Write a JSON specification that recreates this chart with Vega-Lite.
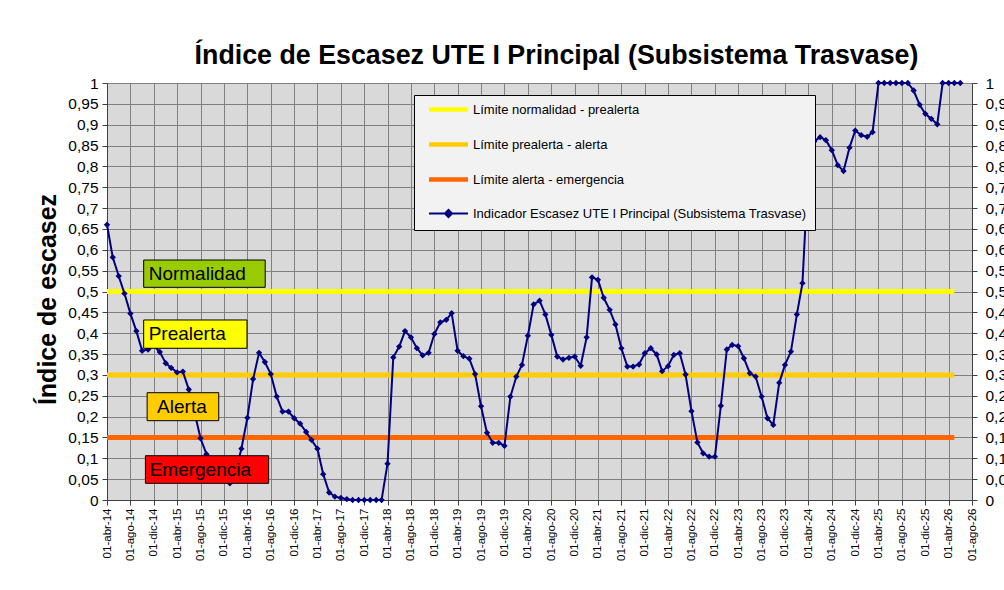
{
  "$schema": "https://vega.github.io/schema/vega-lite/v6.json",
  "autosize": {"type": "none"},
  "width": 865,
  "height": 417,
  "padding": {"left": 107, "top": 83, "right": 32, "bottom": 90},
  "background": "#ffffff",
  "title": {
    "text": "Índice de Escasez UTE I Principal (Subsistema Trasvase)",
    "font": "Liberation Sans",
    "fontSize": 26.8,
    "fontWeight": "bold",
    "color": "#000000",
    "anchor": "middle",
    "dx": 17,
    "dy": 26,
    "offset": 11,
    "baseline": "alphabetic"
  },
  "datasets": {
    "umbrales": [
      {"serie": "Límite normalidad - prealerta", "fecha": "2014-04-01", "v": 0.5},
      {"serie": "Límite normalidad - prealerta", "fecha": "2026-05-01", "v": 0.5},
      {"serie": "Límite prealerta - alerta", "fecha": "2014-04-01", "v": 0.3},
      {"serie": "Límite prealerta - alerta", "fecha": "2026-05-01", "v": 0.3},
      {"serie": "Límite alerta - emergencia", "fecha": "2014-04-01", "v": 0.15},
      {"serie": "Límite alerta - emergencia", "fecha": "2026-05-01", "v": 0.15}
    ],
    "zonas": [
      {"label": "Normalidad", "fecha": "2014-10-09", "fecha2": "2016-07-03", "y1": 0.51, "y2": 0.5755},
      {"label": "Prealerta", "fecha": "2014-10-09", "fecha2": "2016-03-30", "y1": 0.3638, "y2": 0.4317},
      {"label": "Alerta", "fecha": "2014-10-27", "fecha2": "2015-11-04", "y1": 0.1902, "y2": 0.2573},
      {"label": "Emergencia", "fecha": "2014-10-18", "fecha2": "2016-07-21", "y1": 0.04, "y2": 0.1062}
    ],
    "etiquetas": [
      {"label": "Normalidad", "fecha": "2014-11-04", "v": 0.5427},
      {"label": "Prealerta", "fecha": "2014-11-04", "v": 0.3977},
      {"label": "Alerta", "fecha": "2014-12-18", "v": 0.2237},
      {"label": "Emergencia", "fecha": "2014-11-09", "v": 0.0731}
    ],
    "indicador": [
      {"fecha": "2014-04-01", "v": 0.66}, {"fecha": "2014-05-01", "v": 0.582}, {"fecha": "2014-06-01", "v": 0.537},
      {"fecha": "2014-07-01", "v": 0.495}, {"fecha": "2014-08-01", "v": 0.447}, {"fecha": "2014-09-01", "v": 0.405},
      {"fecha": "2014-10-01", "v": 0.358}, {"fecha": "2014-11-01", "v": 0.361}, {"fecha": "2014-12-01", "v": 0.37},
      {"fecha": "2015-01-01", "v": 0.355}, {"fecha": "2015-02-01", "v": 0.328}, {"fecha": "2015-03-01", "v": 0.317},
      {"fecha": "2015-04-01", "v": 0.306}, {"fecha": "2015-05-01", "v": 0.308}, {"fecha": "2015-06-01", "v": 0.265},
      {"fecha": "2015-07-01", "v": 0.21}, {"fecha": "2015-08-01", "v": 0.148}, {"fecha": "2015-09-01", "v": 0.11},
      {"fecha": "2015-10-01", "v": 0.09}, {"fecha": "2015-11-01", "v": 0.075}, {"fecha": "2015-12-01", "v": 0.06},
      {"fecha": "2016-01-01", "v": 0.04}, {"fecha": "2016-02-01", "v": 0.07}, {"fecha": "2016-03-01", "v": 0.123},
      {"fecha": "2016-04-01", "v": 0.197}, {"fecha": "2016-05-01", "v": 0.29}, {"fecha": "2016-06-01", "v": 0.353},
      {"fecha": "2016-07-01", "v": 0.331}, {"fecha": "2016-08-01", "v": 0.302}, {"fecha": "2016-09-01", "v": 0.248},
      {"fecha": "2016-10-01", "v": 0.212}, {"fecha": "2016-11-01", "v": 0.212}, {"fecha": "2016-12-01", "v": 0.196},
      {"fecha": "2017-01-01", "v": 0.183}, {"fecha": "2017-02-01", "v": 0.163}, {"fecha": "2017-03-01", "v": 0.144},
      {"fecha": "2017-04-01", "v": 0.123}, {"fecha": "2017-05-01", "v": 0.062}, {"fecha": "2017-06-01", "v": 0.018},
      {"fecha": "2017-07-01", "v": 0.008}, {"fecha": "2017-08-01", "v": 0.005}, {"fecha": "2017-09-01", "v": 0.002},
      {"fecha": "2017-10-01", "v": 0}, {"fecha": "2017-11-01", "v": 0}, {"fecha": "2017-12-01", "v": 0},
      {"fecha": "2018-01-01", "v": 0}, {"fecha": "2018-02-01", "v": 0}, {"fecha": "2018-03-01", "v": 0},
      {"fecha": "2018-04-01", "v": 0.087}, {"fecha": "2018-05-01", "v": 0.342}, {"fecha": "2018-06-01", "v": 0.368},
      {"fecha": "2018-07-01", "v": 0.405}, {"fecha": "2018-08-01", "v": 0.39}, {"fecha": "2018-09-01", "v": 0.364},
      {"fecha": "2018-10-01", "v": 0.347}, {"fecha": "2018-11-01", "v": 0.353}, {"fecha": "2018-12-01", "v": 0.398},
      {"fecha": "2019-01-01", "v": 0.426}, {"fecha": "2019-02-01", "v": 0.432}, {"fecha": "2019-03-01", "v": 0.448},
      {"fecha": "2019-04-01", "v": 0.358}, {"fecha": "2019-05-01", "v": 0.345}, {"fecha": "2019-06-01", "v": 0.339},
      {"fecha": "2019-07-01", "v": 0.302}, {"fecha": "2019-08-01", "v": 0.225}, {"fecha": "2019-09-01", "v": 0.161},
      {"fecha": "2019-10-01", "v": 0.137}, {"fecha": "2019-11-01", "v": 0.137}, {"fecha": "2019-12-01", "v": 0.13},
      {"fecha": "2020-01-01", "v": 0.248}, {"fecha": "2020-02-01", "v": 0.296}, {"fecha": "2020-03-01", "v": 0.324},
      {"fecha": "2020-04-01", "v": 0.394}, {"fecha": "2020-05-01", "v": 0.469}, {"fecha": "2020-06-01", "v": 0.478},
      {"fecha": "2020-07-01", "v": 0.445}, {"fecha": "2020-08-01", "v": 0.396}, {"fecha": "2020-09-01", "v": 0.344},
      {"fecha": "2020-10-01", "v": 0.337}, {"fecha": "2020-11-01", "v": 0.341}, {"fecha": "2020-12-01", "v": 0.344},
      {"fecha": "2021-01-01", "v": 0.322}, {"fecha": "2021-02-01", "v": 0.39}, {"fecha": "2021-03-01", "v": 0.534},
      {"fecha": "2021-04-01", "v": 0.528}, {"fecha": "2021-05-01", "v": 0.485}, {"fecha": "2021-06-01", "v": 0.456},
      {"fecha": "2021-07-01", "v": 0.421}, {"fecha": "2021-08-01", "v": 0.364}, {"fecha": "2021-09-01", "v": 0.32},
      {"fecha": "2021-10-01", "v": 0.32}, {"fecha": "2021-11-01", "v": 0.325}, {"fecha": "2021-12-01", "v": 0.352},
      {"fecha": "2022-01-01", "v": 0.364}, {"fecha": "2022-02-01", "v": 0.349}, {"fecha": "2022-03-01", "v": 0.309},
      {"fecha": "2022-04-01", "v": 0.321}, {"fecha": "2022-05-01", "v": 0.348}, {"fecha": "2022-06-01", "v": 0.352},
      {"fecha": "2022-07-01", "v": 0.301}, {"fecha": "2022-08-01", "v": 0.213}, {"fecha": "2022-09-01", "v": 0.138},
      {"fecha": "2022-10-01", "v": 0.112}, {"fecha": "2022-11-01", "v": 0.104}, {"fecha": "2022-12-01", "v": 0.104},
      {"fecha": "2023-01-01", "v": 0.226}, {"fecha": "2023-02-01", "v": 0.361}, {"fecha": "2023-03-01", "v": 0.372},
      {"fecha": "2023-04-01", "v": 0.369}, {"fecha": "2023-05-01", "v": 0.34}, {"fecha": "2023-06-01", "v": 0.304},
      {"fecha": "2023-07-01", "v": 0.296}, {"fecha": "2023-08-01", "v": 0.248}, {"fecha": "2023-09-01", "v": 0.196},
      {"fecha": "2023-10-01", "v": 0.18}, {"fecha": "2023-11-01", "v": 0.281}, {"fecha": "2023-12-01", "v": 0.324},
      {"fecha": "2024-01-01", "v": 0.356}, {"fecha": "2024-02-01", "v": 0.445}, {"fecha": "2024-03-01", "v": 0.52},
      {"fecha": "2024-04-01", "v": 0.8}, {"fecha": "2024-05-01", "v": 0.86}, {"fecha": "2024-06-01", "v": 0.87},
      {"fecha": "2024-07-01", "v": 0.863}, {"fecha": "2024-08-01", "v": 0.839}, {"fecha": "2024-09-01", "v": 0.803},
      {"fecha": "2024-10-01", "v": 0.789}, {"fecha": "2024-11-01", "v": 0.845}, {"fecha": "2024-12-01", "v": 0.886},
      {"fecha": "2025-01-01", "v": 0.875}, {"fecha": "2025-02-01", "v": 0.871}, {"fecha": "2025-03-01", "v": 0.882},
      {"fecha": "2025-04-01", "v": 1}, {"fecha": "2025-05-01", "v": 1}, {"fecha": "2025-06-01", "v": 1},
      {"fecha": "2025-07-01", "v": 1}, {"fecha": "2025-08-01", "v": 1}, {"fecha": "2025-09-01", "v": 1},
      {"fecha": "2025-10-01", "v": 0.982}, {"fecha": "2025-11-01", "v": 0.948}, {"fecha": "2025-12-01", "v": 0.926},
      {"fecha": "2026-01-01", "v": 0.914}, {"fecha": "2026-02-01", "v": 0.901}, {"fecha": "2026-03-01", "v": 1},
      {"fecha": "2026-04-01", "v": 1}, {"fecha": "2026-05-01", "v": 1}, {"fecha": "2026-06-01", "v": 1}
    ]
  },
  "encoding": {
    "x": {
      "field": "fecha",
      "type": "temporal",
      "scale": {"type": "utc", "domain": [{"year": 2014, "month": 4, "date": 1, "utc": true}, {"year": 2026, "month": 8, "date": 1, "utc": true}]},
      "axis": {
        "title": null,
        "values": [
          {"year": 2014, "month": 4, "date": 1, "utc": true}, {"year": 2014, "month": 8, "date": 1, "utc": true}, {"year": 2014, "month": 12, "date": 1, "utc": true},
          {"year": 2015, "month": 4, "date": 1, "utc": true}, {"year": 2015, "month": 8, "date": 1, "utc": true}, {"year": 2015, "month": 12, "date": 1, "utc": true},
          {"year": 2016, "month": 4, "date": 1, "utc": true}, {"year": 2016, "month": 8, "date": 1, "utc": true}, {"year": 2016, "month": 12, "date": 1, "utc": true},
          {"year": 2017, "month": 4, "date": 1, "utc": true}, {"year": 2017, "month": 8, "date": 1, "utc": true}, {"year": 2017, "month": 12, "date": 1, "utc": true},
          {"year": 2018, "month": 4, "date": 1, "utc": true}, {"year": 2018, "month": 8, "date": 1, "utc": true}, {"year": 2018, "month": 12, "date": 1, "utc": true},
          {"year": 2019, "month": 4, "date": 1, "utc": true}, {"year": 2019, "month": 8, "date": 1, "utc": true}, {"year": 2019, "month": 12, "date": 1, "utc": true},
          {"year": 2020, "month": 4, "date": 1, "utc": true}, {"year": 2020, "month": 8, "date": 1, "utc": true}, {"year": 2020, "month": 12, "date": 1, "utc": true},
          {"year": 2021, "month": 4, "date": 1, "utc": true}, {"year": 2021, "month": 8, "date": 1, "utc": true}, {"year": 2021, "month": 12, "date": 1, "utc": true},
          {"year": 2022, "month": 4, "date": 1, "utc": true}, {"year": 2022, "month": 8, "date": 1, "utc": true}, {"year": 2022, "month": 12, "date": 1, "utc": true},
          {"year": 2023, "month": 4, "date": 1, "utc": true}, {"year": 2023, "month": 8, "date": 1, "utc": true}, {"year": 2023, "month": 12, "date": 1, "utc": true},
          {"year": 2024, "month": 4, "date": 1, "utc": true}, {"year": 2024, "month": 8, "date": 1, "utc": true}, {"year": 2024, "month": 12, "date": 1, "utc": true},
          {"year": 2025, "month": 4, "date": 1, "utc": true}, {"year": 2025, "month": 8, "date": 1, "utc": true}, {"year": 2025, "month": 12, "date": 1, "utc": true},
          {"year": 2026, "month": 4, "date": 1, "utc": true}, {"year": 2026, "month": 8, "date": 1, "utc": true}
        ],
        "labelExpr": "'01-' + ['ene','feb','mar','abr','may','jun','jul','ago','sep','oct','nov','dic'][utcmonth(datum.value)] + '-' + utcFormat(datum.value, '%y')",
        "labelAngle": -90,
        "labelFontSize": 11.5,
        "labelPadding": 3,
        "labelOverlap": false,
        "labelFlush": false,
        "labelBound": false,
        "grid": true,
        "tickSize": 5
      }
    }
  },
  "layer": [
    {
      "data": {"name": "umbrales"},
      "mark": {"type": "line", "strokeWidth": 5, "strokeCap": "butt"},
      "encoding": {
        "y": {
          "field": "v",
          "type": "quantitative",
          "scale": {"domain": [0, 1], "nice": false, "zero": true},
          "axis": {
            "title": "Índice de escasez",
            "titleFont": "Liberation Sans",
            "titleFontSize": 25,
            "titleFontWeight": "bold",
            "titleColor": "#000000",
            "titlePadding": 7,
            "titleY": 216,
            "values": [0, 0.05, 0.1, 0.15, 0.2, 0.25, 0.3, 0.35, 0.4, 0.45, 0.5, 0.55, 0.6, 0.65, 0.7, 0.75, 0.8, 0.85, 0.9, 0.95, 1],
            "labelExpr": "replace(format(datum.value, '.2~f'), '.', ',')",
            "labelFontSize": 15.5,
            "labelPadding": 4,
            "labelOverlap": false,
            "labelFlush": false,
            "grid": true,
            "tickSize": 5
          }
        },
        "color": {
          "field": "serie",
          "type": "nominal",
          "scale": {
            "domain": ["Límite normalidad - prealerta", "Límite prealerta - alerta", "Límite alerta - emergencia", "Indicador Escasez UTE I Principal (Subsistema Trasvase)"],
            "range": ["#FFFF00", "#FFCC00", "#FF6600", "#000080"]
          },
          "legend": {
            "orient": "none",
            "legendX": 307,
            "legendY": 12,
            "title": null,
            "fillColor": "#f2f2f2",
            "strokeColor": "#000000",
            "padding": 8,
            "rowPadding": 16,
            "symbolSize": 169,
            "symbolStrokeWidth": 5,
            "symbolOffset": 20,
            "labelOffset": 18,
            "labelFont": "Liberation Sans",
            "labelFontSize": 13,
            "labelColor": "#000000",
            "labelLimit": 600,
            "labelExpr": "datum.label + '\u00a0\u00a0\u00a0'",
            "encode": {
              "symbols": {
                "update": {
                  "shape": {"signal": "datum.value === 'Indicador Escasez UTE I Principal (Subsistema Trasvase)' ? 'M-3,0L3,0M0,-0.55L0.55,0L0,0.55L-0.55,0Z' : 'M-3,0L3,0'"},
                  "fill": {"signal": "datum.value === 'Indicador Escasez UTE I Principal (Subsistema Trasvase)' ? '#000080' : 'transparent'"},
                  "strokeWidth": {"signal": "datum.value === 'Indicador Escasez UTE I Principal (Subsistema Trasvase)' ? 2 : 4.5"}
                }
              }
            }
          }
        }
      }
    },
    {
      "data": {"name": "indicador"},
      "mark": {"type": "line", "strokeWidth": 2, "point": {"shape": "diamond", "filled": true, "size": 40}},
      "encoding": {
        "y": {
          "field": "v",
          "type": "quantitative",
          "axis": {
            "orient": "right",
            "title": null,
            "values": [0, 0.05, 0.1, 0.15, 0.2, 0.25, 0.3, 0.35, 0.4, 0.45, 0.5, 0.55, 0.6, 0.65, 0.7, 0.75, 0.8, 0.85, 0.9, 0.95, 1],
            "labelExpr": "replace(format(datum.value, '.2~f'), '.', ',')",
            "labelFontSize": 15.5,
            "labelPadding": 8,
            "labelOverlap": false,
            "labelFlush": false,
            "grid": false,
            "tickSize": 5
          }
        },
        "color": {"datum": "Indicador Escasez UTE I Principal (Subsistema Trasvase)", "type": "nominal"}
      }
    },
    {
      "data": {"name": "zonas"},
      "mark": {"type": "rect", "stroke": "#000000", "strokeWidth": 1},
      "encoding": {
        "x2": {"field": "fecha2"},
        "y": {"field": "y1", "type": "quantitative", "axis": null},
        "y2": {"field": "y2"},
        "fill": {
          "field": "label",
          "type": "nominal",
          "scale": {"domain": ["Normalidad", "Prealerta", "Alerta", "Emergencia"], "range": ["#99CC00", "#FFFF00", "#FFCC00", "#FF0000"]},
          "legend": null
        }
      }
    },
    {
      "data": {"name": "etiquetas"},
      "mark": {"type": "text", "align": "left", "baseline": "middle", "font": "Liberation Sans", "fontSize": 19, "color": "#000000"},
      "encoding": {
        "y": {"field": "v", "type": "quantitative", "axis": null},
        "text": {"field": "label"}
      }
    }
  ],
  "resolve": {"axis": {"y": "independent"}},
  "config": {
    "font": "Liberation Sans",
    "view": {"fill": "#d9d9d9", "stroke": "#808080", "strokeWidth": 1},
    "axis": {
      "labelFont": "Liberation Sans",
      "labelColor": "#000000",
      "domainColor": "#404040",
      "tickColor": "#404040",
      "gridColor": "#808080",
      "gridOpacity": 1,
      "gridWidth": 1
    }
  }
}
